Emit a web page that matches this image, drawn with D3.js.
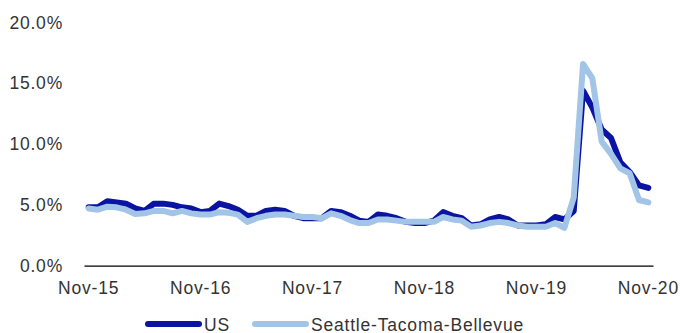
<!DOCTYPE html>
<html>
<head>
<meta charset="utf-8">
<script src="https://cdn.jsdelivr.net/npm/d3@7"></script>
<style>
  body { margin: 0; background: #fff; }
  text { font-family: "Liberation Sans", Arial, sans-serif; fill: #333; }
</style>
</head>
<body>
<div id="chart"></div>
<script>
const months = [
  "Nov-15", "Dec-15",
  "Jan-16", "Feb-16", "Mar-16", "Apr-16", "May-16", "Jun-16", "Jul-16", "Aug-16", "Sep-16", "Oct-16", "Nov-16", "Dec-16",
  "Jan-17", "Feb-17", "Mar-17", "Apr-17", "May-17", "Jun-17", "Jul-17", "Aug-17", "Sep-17", "Oct-17", "Nov-17", "Dec-17",
  "Jan-18", "Feb-18", "Mar-18", "Apr-18", "May-18", "Jun-18", "Jul-18", "Aug-18", "Sep-18", "Oct-18", "Nov-18", "Dec-18",
  "Jan-19", "Feb-19", "Mar-19", "Apr-19", "May-19", "Jun-19", "Jul-19", "Aug-19", "Sep-19", "Oct-19", "Nov-19", "Dec-19",
  "Jan-20", "Feb-20", "Mar-20", "Apr-20", "May-20", "Jun-20", "Jul-20", "Aug-20", "Sep-20", "Oct-20", "Nov-20"
]

const tickLabels = ["Nov-15", "Nov-16", "Nov-17", "Nov-18", "Nov-19", "Nov-20"]
const yTicks = [0, 5, 10, 15, 20]

const seriesNames = ["US", "Seattle-Tacoma-Bellevue"]

// unemployment rate, %, not seasonally adjusted
const us = [
  4.8, 4.8, 5.3, 5.2, 5.1, 4.7, 4.5, 5.1, 5.1, 5.0, 4.8, 4.7, 4.4,
  4.5, 5.1, 4.9, 4.6, 4.1, 4.1, 4.5, 4.6, 4.5, 4.1, 3.9, 3.9,
  3.9, 4.5, 4.4, 4.1, 3.7, 3.6, 4.2, 4.1, 3.9, 3.6, 3.5, 3.5,
  3.7, 4.4, 4.1, 3.9, 3.3, 3.4, 3.8, 4.0, 3.8, 3.3, 3.3, 3.3,
  3.4, 4.0, 3.8, 4.5, 14.4, 13.0, 11.2, 10.5, 8.5, 7.7, 6.6, 6.4
]

const seattle = [
  4.7, 4.6, 4.85, 4.8, 4.6, 4.25, 4.3, 4.5, 4.5, 4.3, 4.5, 4.3, 4.2,
  4.2, 4.4, 4.35, 4.2, 3.6, 3.9, 4.1, 4.2, 4.2, 4.1, 4.0, 4.0,
  3.9, 4.3, 4.1, 3.75, 3.5, 3.5, 3.8, 3.8, 3.7, 3.6, 3.6, 3.6,
  3.6, 4.0, 3.8, 3.7, 3.2, 3.3, 3.5, 3.6, 3.5, 3.3, 3.2, 3.2,
  3.2, 3.5, 3.1, 5.6, 16.6, 15.4, 10.2, 9.2, 8.0, 7.6, 5.4, 5.2
]

const colors = ["#0b13a3", "#a2c4e6"]

function chart() {
  const width = 680
  const height = 333

  const svg = d3.select("#chart")
    .append("svg")
    .attr("width", width)
    .attr("height", height)

  const x = d3.scaleBand().domain(months).range([84, 653])
  const y = d3.scaleLinear().domain([0, 20]).range([265.6, 22.6])

  // y labels, no gridlines
  svg.selectAll("text.ylab")
    .data(yTicks)
    .enter()
    .append("text")
    .attr("class", "ylab")
    .attr("x", 63)
    .attr("y", d => y(d) + 6)
    .attr("text-anchor", "end")
    .style("font-size", "17.5px")
    .style("letter-spacing", "0.8px")
    .text(d => d3.format(".1f")(d) + "%")

  const xAxis = svg.append("g")
    .attr("transform", `translate(0,${y(0)})`)
    .call(d3.axisBottom(x).tickValues(tickLabels).tickSize(0).tickPadding(16))
  xAxis.select(".domain").attr("stroke", "#000").attr("stroke-width", 1.2)
  xAxis.selectAll("text")
    .style("font-family", "'Liberation Sans', Arial, sans-serif")
    .style("font-size", "17.5px")
    .style("letter-spacing", "0.8px")
    .attr("fill", "#333")

  const line = d3.line()
    .x((d, i) => x(months[i]) + x.bandwidth() / 2)
    .y(d => y(d))

  svg.selectAll("path.series")
    .data([us, seattle])
    .enter()
    .append("path")
    .attr("class", "series")
    .attr("d", line)
    .attr("fill", "none")
    .attr("stroke", (d, i) => colors[i])
    .attr("stroke-width", 6)
    .attr("stroke-linejoin", "round")
    .attr("stroke-linecap", "round")

  // legend
  const legendX = [145, 252]
  const legend = svg.selectAll("g.legend")
    .data(seriesNames)
    .enter()
    .append("g")
    .attr("class", "legend")
    .attr("transform", (d, i) => `translate(${legendX[i]},324)`)
  legend.append("line")
    .attr("x1", 3)
    .attr("x2", 54)
    .attr("stroke", (d, i) => colors[i])
    .attr("stroke-width", 6)
    .attr("stroke-linecap", "round")
  legend.append("text")
    .attr("x", 59)
    .attr("y", 6.5)
    .style("font-size", "17.5px")
    .style("letter-spacing", "0.8px")
    .text(d => d)
}

chart()
</script>
</body>
</html>
